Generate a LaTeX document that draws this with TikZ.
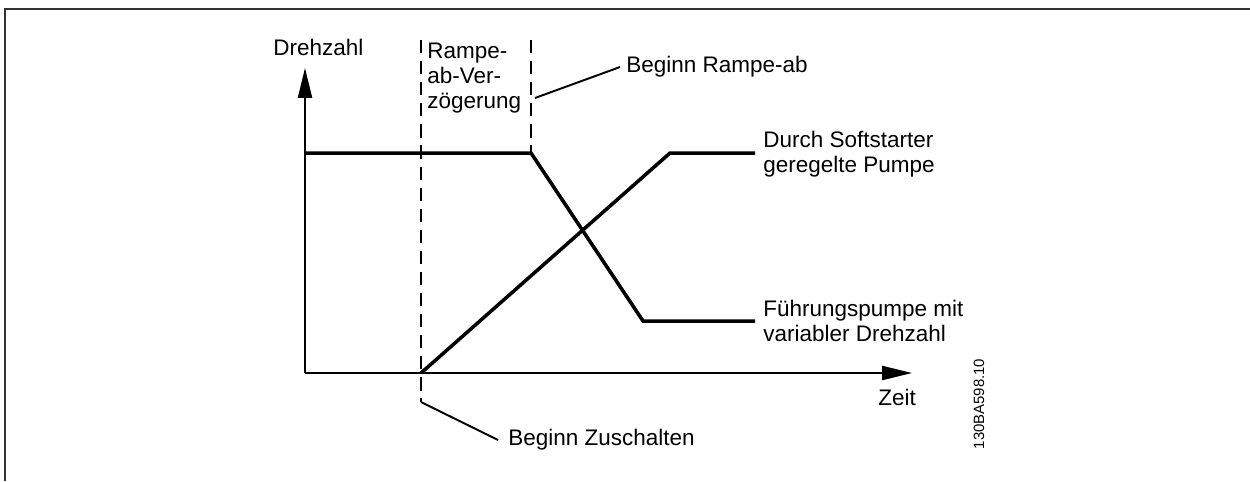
\documentclass[tikz,border=0pt]{standalone}
\usepackage{fontspec}
\setmainfont{Liberation Sans}
\usetikzlibrary{arrows.meta}
\begin{document}
\begin{tikzpicture}[x=0.02cm,y=-0.02cm,
  lbl/.style={font=\fontsize{12.8}{14.2}\selectfont, inner sep=0pt, align=left, anchor=west},
  axisline/.style={line width=1.1pt, -{Triangle[length=17pt,width=8pt]}},
  curveline/.style={line width=2pt, line join=miter},
  guide/.style={line width=1.1pt, dash pattern=on 7.5pt off 4.5pt},
  leader/.style={line width=1.1pt},
  framestyle/.style={line width=1.2pt, draw=black!80}]
\useasboundingbox (0,0) rectangle (1250,481);
% frame
\coordinate (fb) at (5,481);
\coordinate (fc) at (5,9);
\coordinate (fr) at (1250,9);
\draw[framestyle] (fb) -- (fc) -- (fr);
% axes
\coordinate (O) at (305,373);
\coordinate (Ytip) at (305,68);
\coordinate (Xtip) at (912,373);
\draw[axisline] (O) -- (Ytip);
\draw[axisline] (O) -- (Xtip);
\node[lbl] (ylab) at (273,47) {Drehzahl};
\node[lbl] (xlab) at (878,397) {Zeit};
% guides
\coordinate (d1t) at (421,40);
\coordinate (d1b) at (421,402);
\coordinate (z) at (498,440);
\draw[guide] (d1t) -- (d1b);
\draw[leader] (d1b) -- (z);
\node[lbl] (zlab) at (508,440) {Beginn Zuschalten};
\coordinate (d2t) at (531,40);
\coordinate (d2b) at (531,153);
\draw[guide] (d2t) -- (d2b);
\coordinate (r1) at (535,98);
\coordinate (r2) at (620,67);
\draw[leader] (r1) -- (r2);
\node[lbl] (rlab) at (626,67) {Beginn Rampe-ab};
\node[lbl, font=\fontsize{12.8}{14.2}\selectfont] (vlab) at (427,78) {Rampe-\\ab-Ver-\\zögerung};
% curves
\coordinate (a0) at (305,153);
\coordinate (a1) at (531,153);
\coordinate (a2) at (643,321);
\coordinate (a3) at (755,321);
\draw[curveline] (a0) -- (a1) -- (a2) -- (a3);
\coordinate (b0) at (421,373);
\coordinate (b1) at (670,153);
\coordinate (b2) at (755,153);
\draw[curveline] (b0) -- (b1) -- (b2);
\node[lbl] (slab) at (763,154) {Durch Softstarter\\geregelte Pumpe};
\node[lbl] (flab) at (763,321) {Führungspumpe mit\\variabler Drehzahl};
\node[rotate=90, font=\fontsize{8.5}{10}\selectfont, inner sep=0pt] (code) at (979,404) {130BA598.10};
\end{tikzpicture}
\end{document}
